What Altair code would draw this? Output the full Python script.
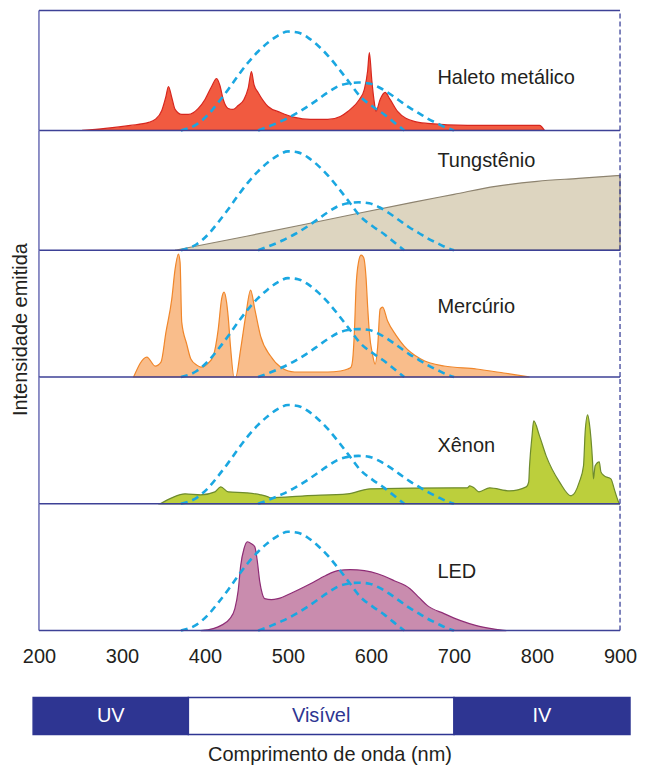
import altair as alt
import pandas as pd

# ---------------- data ----------------
ticks_nm = [200, 300, 400, 500, 600, 700, 800, 900]

haleto_nm = [252, 280, 310, 332, 340, 348, 353, 356, 360, 364, 372, 380, 392, 400, 408, 414, 418, 422,
             428, 434, 440, 447, 452, 456, 459, 464, 476, 491, 508, 527, 548, 563, 572, 586, 592, 596,
             598, 601, 604, 606, 611, 617, 623, 632, 652, 668, 716, 803, 809]
haleto_val = [0, 0.02, 0.05, 0.08, 0.11, 0.2, 0.34, 0.44, 0.33, 0.21, 0.16, 0.16, 0.22, 0.31, 0.44, 0.52, 0.45, 0.31,
              0.22, 0.21, 0.25, 0.31, 0.42, 0.59, 0.46, 0.38, 0.24, 0.18, 0.13, 0.11, 0.11, 0.14, 0.19, 0.31, 0.41, 0.6,
              0.78, 0.5, 0.28, 0.19, 0.31, 0.38, 0.31, 0.19, 0.09, 0.07, 0.05, 0.05, 0]

tung_nm = [364, 450, 550, 650, 700, 750, 800, 850, 900]
tung_val = [0, 0.14, 0.31, 0.48, 0.56, 0.64, 0.69, 0.72, 0.75]

merc_nm = [314, 330, 340, 347, 353, 360, 364, 368, 370, 372, 378, 383, 390, 395, 404, 410, 416, 420, 423, 426,
           428, 431, 435, 437, 443, 449, 455, 460, 467, 479, 491, 508, 548, 563, 572, 576, 578, 580, 582, 585,
           588, 591, 594, 596, 598, 602, 605, 608, 611, 614, 620, 630, 640, 660, 688, 727, 760, 791]
merc_val = [0, 0.2, 0.11, 0.15, 0.45, 0.78, 1.08, 1.23, 1.15, 0.55, 0.33, 0.18, 0.12, 0.1, 0.14, 0.21, 0.48, 0.78, 0.85, 0.75,
            0.6, 0.28, 0, 0, 0.28, 0.61, 0.87, 0.68, 0.41, 0.21, 0.1, 0.05, 0.05, 0.06, 0.08, 0.1, 0.18, 0.45, 0.9, 1.15,
            1.22, 1.2, 1.0, 0.7, 0.45, 0.22, 0.13, 0.3, 0.68, 0.7, 0.56, 0.42, 0.31, 0.18, 0.11, 0.08, 0.04, 0]

xen_nm = [346, 360, 376, 395, 412, 419, 428, 450, 467, 476, 479, 520, 572, 599, 700, 716, 719, 724, 730, 743,
          767, 787, 790, 791, 794, 796, 803, 811, 827, 841, 851, 856, 858, 861, 863, 867, 868, 870, 875, 877,
          881, 889, 893, 896, 899]
xen_val = [0, 0.06, 0.1, 0.09, 0.12, 0.17, 0.12, 0.11, 0.09, 0.07, 0.06, 0.08, 0.1, 0.15, 0.16, 0.16, 0.18, 0.16, 0.12, 0.16,
           0.13, 0.17, 0.22, 0.38, 0.68, 0.83, 0.68, 0.48, 0.22, 0.08, 0.22, 0.38, 0.72, 0.89, 0.81, 0.41, 0.25, 0.38, 0.42, 0.32,
           0.28, 0.25, 0.15, 0.07, 0]

led_nm = [395, 410, 419, 430, 436, 440, 443, 447, 451, 456, 460, 463, 466, 469, 472, 480, 488, 505, 527, 545,
          560, 575, 592, 608, 628, 647, 658, 668, 688, 708, 727, 745, 763]
led_val = [0, 0.02, 0.05, 0.12, 0.22, 0.4, 0.65, 0.82, 0.89, 0.87, 0.84, 0.7, 0.49, 0.37, 0.32, 0.31, 0.32, 0.38, 0.47, 0.55,
           0.6, 0.61, 0.6, 0.57, 0.5, 0.42, 0.33, 0.25, 0.17, 0.1, 0.05, 0.02, 0]

# eye sensitivity curves (dashed)
scot_nm = [371, 390, 404, 416, 428, 440, 452, 464, 476, 488, 500, 512, 524, 536, 548, 560, 574, 587, 602, 616, 628, 640]
scot_val = [0, 0.06, 0.16, 0.28, 0.41, 0.55, 0.68, 0.79, 0.88, 0.95, 0.99, 0.98, 0.93, 0.85, 0.75, 0.63, 0.48, 0.34, 0.24, 0.16, 0.08, 0]
phot_nm = [464, 480, 494, 508, 522, 536, 548, 560, 572, 585, 598, 610, 622, 634, 646, 658, 668, 680, 690, 700]
phot_val = [0, 0.05, 0.1, 0.16, 0.23, 0.31, 0.38, 0.44, 0.47, 0.48, 0.47, 0.43, 0.37, 0.3, 0.23, 0.17, 0.12, 0.07, 0.03, 0]

lamp_names = ["Haleto metálico", "Tungstênio", "Mercúrio", "Xênon", "LED"]
lamp_nm = [haleto_nm, tung_nm, merc_nm, xen_nm, led_nm]
lamp_val = [haleto_val, tung_val, merc_val, xen_val, led_val]
lamp_fill = ["#f15a40", "#ddd5c0", "#f9bd8b", "#bccf3c", "#c98cae"]
lamp_stroke = ["#d7261e", "#8d836f", "#f0862a", "#6e8b2d", "#8e2c75"]
label_nm = 680
label_y = [0.46, 0.83, 0.64, 0.52, 0.53]

band_names = ["UV", "Visível", "IV"]
band_start = [193, 380, 700]
band_end = [380, 700, 912]
band_fill = ["#2e3592", "#ffffff", "#2e3592"]
band_text = ["#ffffff", "#2e3592", "#ffffff"]

# ---------------- styling ----------------
FONT = "Liberation Sans"
NAVY = "#2e3592"
FRAME = "#3d4196"
LEFTFRAME = "#6b6db5"
DASH = "#1aa7e1"
TXT = "#231f20"
W = 582
heights = [120, 120, 127, 127, 127]
one = pd.DataFrame({"a": [0]})
scot_df = pd.DataFrame({"nm": scot_nm, "v": scot_val})
phot_df = pd.DataFrame({"nm": phot_nm, "v": phot_val})

xscale = alt.Scale(domain=[200, 900], nice=False, zero=False)

panels = []
for i, name in enumerate(lamp_names):
    H = heights[i]
    ytop = H / 100
    yscale = alt.Scale(domain=[0, ytop], nice=False, zero=True)
    if i == 4:
        xaxis = alt.Axis(values=ticks_nm, ticks=False, tickSize=0, domain=False, grid=False,
                         labelFontSize=20, labelFont=FONT, labelColor=TXT, labelPadding=16,
                         labelFlush=False, labelOverlap=False, title=None, format="d")
    else:
        xaxis = None
    if i == 2:
        yaxis = alt.Axis(title="Intensidade emitida", labels=False, ticks=False, tickSize=0, domain=False,
                         grid=False, titleFontSize=20, titleFont=FONT, titleFontWeight="normal",
                         titleColor=TXT, titlePadding=8, titleY=79)
    else:
        yaxis = None
    df = pd.DataFrame({"nm": lamp_nm[i], "v": lamp_val[i]})
    area = alt.Chart(df).mark_area(fill=lamp_fill[i], stroke=lamp_stroke[i], strokeWidth=1.2,
                                   interpolate="monotone").encode(
        x=alt.X("nm:Q", scale=xscale, axis=xaxis),
        y=alt.Y("v:Q", scale=yscale, axis=yaxis),
    )
    scot = alt.Chart(scot_df).mark_line(color=DASH, strokeDash=[7, 5], strokeWidth=2.6,
                                        interpolate="monotone").encode(x="nm:Q", y="v:Q")
    phot = alt.Chart(phot_df).mark_line(color=DASH, strokeDash=[7, 5], strokeWidth=2.6,
                                        interpolate="monotone").encode(x="nm:Q", y="v:Q")
    left = alt.Chart(one).mark_rule(color=LEFTFRAME, strokeWidth=1.5).encode(
        x=alt.datum(200), y=alt.datum(0), y2=alt.datum(ytop))
    right = alt.Chart(one).mark_rule(color=NAVY, strokeWidth=1.2, strokeDash=[5, 3]).encode(
        x=alt.datum(900), y=alt.datum(0), y2=alt.datum(ytop))
    bottom = alt.Chart(one).mark_rule(color=FRAME, strokeWidth=1.5).encode(
        y=alt.datum(0), x=alt.datum(200), x2=alt.datum(900))
    label = alt.Chart(one).mark_text(align="left", baseline="alphabetic", fontSize=20, font=FONT,
                                     color=TXT).encode(
        x=alt.datum(label_nm), y=alt.datum(label_y[i]), text=alt.value(name))
    layers = [area, scot, phot, left, right, bottom, label]
    if i == 0:
        top = alt.Chart(one).mark_rule(color=FRAME, strokeWidth=1.5).encode(
            y=alt.datum(ytop), x=alt.datum(200), x2=alt.datum(900))
        layers.append(top)
    panels.append(alt.layer(*layers).properties(width=W, height=H))

# spectrum band
BH = 104
bdf = pd.DataFrame({"name": band_names, "start": band_start, "end": band_end,
                    "fill": band_fill, "tc": band_text})
rects = alt.Chart(bdf).mark_rect(stroke=NAVY, strokeWidth=1.5, clip=False).encode(
    x=alt.X("start:Q", scale=xscale,
            axis=alt.Axis(title="Comprimento de onda (nm)", labels=False, ticks=False, tickSize=0,
                          domain=False, grid=False, titleFontSize=20, titleFont=FONT,
                          titleFontWeight="normal", titleColor=TXT, titlePadding=10)),
    x2="end:Q",
    y=alt.value(67), y2=alt.value(BH),
    fill=alt.Fill("fill:N", scale=None),
)
btext = alt.Chart(bdf).transform_calculate(mid="(datum.start + datum.end) / 2").mark_text(
    fontSize=20, font=FONT, baseline="middle", align="center").encode(
    x=alt.X("mid:Q", scale=xscale),
    y=alt.value(85.5),
    text="name:N",
    color=alt.Color("tc:N", scale=None),
)
band = alt.layer(rects, btext).properties(width=W, height=BH)

chart = alt.vconcat(*panels, band, spacing=0, bounds="flush").properties(
    padding={"left": 2, "top": 1, "right": 0, "bottom": 0}
).configure(font=FONT).configure_view(stroke=None)

chart.save("out.html", embed_options={"renderer": "svg", "actions": False})
